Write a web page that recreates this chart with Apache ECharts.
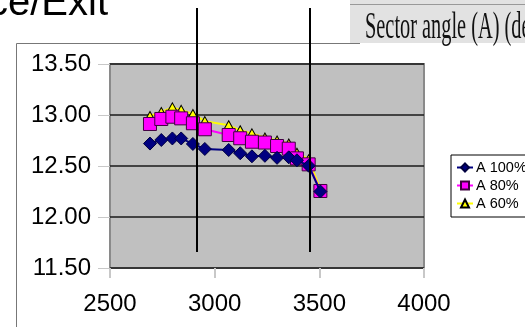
<!DOCTYPE html>
<html>
<head>
<meta charset="utf-8">
<script src="https://cdn.jsdelivr.net/npm/echarts@6/dist/echarts.min.js"></script>
<style>
html,body{margin:0;padding:0;background:#fff;}
#c{width:525px;height:327px;}
</style>
</head>
<body>
<div id="c"></div>
<script>
const xTicks = [2500, 3000, 3500, 4000];
const yTicks = [11.5, 12.0, 12.5, 13.0, 13.5];
const rpm = [2691, 2745, 2798, 2840, 2896, 2953, 3067, 3122, 3178, 3240, 3298, 3354, 3393, 3449, 3505];
const a100 = [12.72, 12.755, 12.77, 12.77, 12.716, 12.667, 12.657, 12.625, 12.595, 12.60, 12.58, 12.585, 12.556, 12.503, 12.25];
const a80 = [12.912, 12.961, 12.983, 12.967, 12.919, 12.86, 12.804, 12.772, 12.738, 12.73, 12.696, 12.67, 12.575, 12.516, 12.255];
const a60 = [12.99, 13.03, 13.075, 13.05, 13.01, 12.94, 12.90, 12.85, 12.82, 12.78, 12.75, 12.72, 12.63, 12.565, 12.27];
const seriesNames = ['A 100%', 'A 80%', 'A 60%'];

function pairs(ys) { return rpm.map((x, i) => [x, ys[i]]); }

const chart = echarts.init(document.getElementById('c'), null, {renderer: 'canvas'});
const option = {
  backgroundColor: '#ffffff',
  animation: false,
  grid: {
    left: 110, right: 101, top: 64, bottom: 59,
    show: true, backgroundColor: '#c0c0c0', borderColor: '#8a8a8a', borderWidth: 2
  },
  legend: {
    data: seriesNames,
    orient: 'vertical',
    left: 451, top: 155,
    backgroundColor: '#ffffff',
    borderColor: '#000000', borderWidth: 1, borderRadius: 0,
    padding: [5, 8, 6, 5],
    itemWidth: 16, itemHeight: 10, itemGap: 3,
    textStyle: {fontFamily: 'Liberation Sans', fontSize: 14.5, color: '#000', lineHeight: 14, padding: [0, 0, 0, -2]}
  },
  xAxis: {
    type: 'value', min: xTicks[0], max: xTicks[xTicks.length - 1], interval: 500,
    axisLine: {show: false},
    axisTick: {show: true, length: 10, lineStyle: {color: '#c8c8c8', width: 2}},
    splitLine: {show: false},
    axisLabel: {fontFamily: 'Liberation Sans', fontSize: 24, color: '#000', margin: 24,
      formatter: v => String(v)}
  },
  yAxis: {
    type: 'value', min: yTicks[0], max: yTicks[yTicks.length - 1], interval: 0.5,
    axisLine: {show: false},
    axisTick: {show: true, length: 12, lineStyle: {color: '#c8c8c8', width: 1}},
    splitLine: {show: true, lineStyle: {color: '#1a1a1a', width: 1.5}},
    axisLabel: {fontFamily: 'Liberation Sans', fontSize: 24, color: '#000', margin: 19,
      formatter: v => v.toFixed(2)}
  },
  series: [
    {
      name: seriesNames[0], type: 'line', data: pairs(a100), z: 5,
      symbol: 'diamond', symbolSize: 13,
      lineStyle: {color: '#000080', width: 2},
      itemStyle: {color: '#000080', borderColor: '#000040', borderWidth: 1}
    },
    {
      name: seriesNames[1], type: 'line', data: pairs(a80), z: 4,
      symbol: 'rect', symbolSize: 13,
      lineStyle: {color: '#ff00ff', width: 2},
      itemStyle: {color: '#ff00ff', borderColor: '#400040', borderWidth: 1}
    },
    {
      name: seriesNames[2], type: 'line', data: pairs(a60), z: 3,
      symbol: 'triangle', symbolSize: [10, 9],
      lineStyle: {color: '#ffff00', width: 2},
      itemStyle: {color: '#ffff00', borderColor: '#000000', borderWidth: 1}
    }
  ],
  graphic: [
    {type: 'line', z: 100, shape: {x1: 16.5, y1: 43.5, x2: 360, y2: 43.5}, style: {stroke: '#777', lineWidth: 1}},
    {type: 'line', z: 100, shape: {x1: 16.5, y1: 43.5, x2: 16.5, y2: 327}, style: {stroke: '#777', lineWidth: 1}},
    {type: 'rect', z: 101, shape: {x: 350, y: 0, width: 175, height: 43}, style: {fill: '#e2e2e2'}},
    {type: 'line', z: 102, shape: {x1: 350, y1: 4.5, x2: 525, y2: 4.5}, style: {stroke: '#999', lineWidth: 1}},
    {type: 'text', z: 103, x: 365, y: 28, scaleX: 0.55,
      style: {text: 'Sector angle (A) (deg)', fontFamily: 'Liberation Serif', fontSize: 37, fill: '#111', align: 'left', verticalAlign: 'middle'}},
    {type: 'text', z: 103, x: 108, y: 4,
      style: {text: 'Entrance/Exit', fontFamily: 'Liberation Sans', fontSize: 40, fill: '#000', align: 'right', verticalAlign: 'middle'}},
    {type: 'line', z: 110, shape: {x1: 197, y1: 8, x2: 197, y2: 252}, style: {stroke: '#000', lineWidth: 2}},
    {type: 'line', z: 110, shape: {x1: 310, y1: 8, x2: 310, y2: 252}, style: {stroke: '#000', lineWidth: 2}}
  ]
};
chart.setOption(option);
</script>
</body>
</html>
